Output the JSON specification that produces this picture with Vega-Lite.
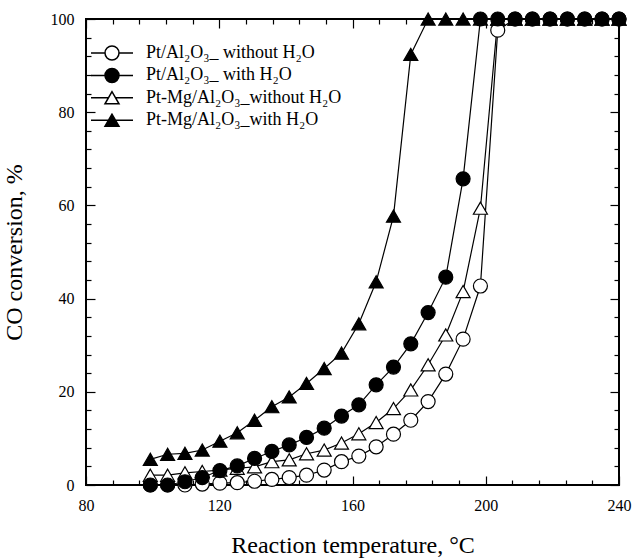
{
  "$schema": "https://vega.github.io/schema/vega-lite/v6.json",
  "width": 533,
  "height": 466,
  "autosize": {"type": "none"},
  "padding": {"left": 86, "top": 19, "right": 16, "bottom": 74},
  "background": "white",
  "config": {
    "view": {"stroke": "black", "strokeWidth": 2},
    "axis": {"domain": false, "grid": false, "labelFlush": false, "tickColor": "black", "tickWidth": 1.2, "labelFont": "Liberation Serif", "labelFontSize": 16, "labelColor": "black", "titleFont": "Liberation Serif", "titleFontSize": 24, "titleFontWeight": "normal", "titleColor": "black"},
    "legend": {"labelFont": "Liberation Serif", "labelFontSize": 18, "labelColor": "black", "labelLimit": 400}
  },
  "data": {"values": [
    {"T": 99.3, "A": 0, "B": 0, "C": 2.1, "D": 5.5},
    {"T": 104.5, "A": 0, "B": 0, "C": 2.1, "D": 6.6},
    {"T": 109.7, "A": 0, "B": 0.7, "C": 2.6, "D": 6.8},
    {"T": 114.9, "A": 0.2, "B": 1.6, "C": 2.9, "D": 7.5},
    {"T": 120.2, "A": 0.4, "B": 3.1, "C": 3.2, "D": 9.4},
    {"T": 125.4, "A": 0.5, "B": 4.1, "C": 3.6, "D": 11.2},
    {"T": 130.6, "A": 0.8, "B": 5.7, "C": 3.9, "D": 13.9},
    {"T": 135.8, "A": 1.2, "B": 7.2, "C": 5.0, "D": 16.8},
    {"T": 141.0, "A": 1.6, "B": 8.6, "C": 5.4, "D": 18.9},
    {"T": 146.2, "A": 2.1, "B": 10.2, "C": 6.7, "D": 21.8},
    {"T": 151.5, "A": 3.2, "B": 12.2, "C": 7.5, "D": 25.0},
    {"T": 156.7, "A": 5.0, "B": 14.8, "C": 9.0, "D": 28.3},
    {"T": 161.9, "A": 6.2, "B": 17.2, "C": 11.0, "D": 34.6},
    {"T": 167.1, "A": 8.2, "B": 21.5, "C": 13.4, "D": 43.6},
    {"T": 172.3, "A": 10.9, "B": 25.3, "C": 16.4, "D": 57.7},
    {"T": 177.5, "A": 13.9, "B": 30.3, "C": 20.4, "D": 92.4},
    {"T": 182.7, "A": 17.9, "B": 37.0, "C": 25.8, "D": 100},
    {"T": 188.0, "A": 23.8, "B": 44.6, "C": 32.2, "D": 100},
    {"T": 193.2, "A": 31.3, "B": 65.7, "C": 41.5, "D": 100},
    {"T": 198.4, "A": 42.7, "B": 100, "C": 59.4, "D": 100},
    {"T": 203.6, "A": 97.6, "B": 100, "C": 100, "D": 100},
    {"T": 208.8, "A": 100, "B": 100, "C": 100, "D": 100},
    {"T": 214.0, "A": 100, "B": 100, "C": 100, "D": 100},
    {"T": 219.3, "A": 100, "B": 100, "C": 100, "D": 100},
    {"T": 224.5, "A": 100, "B": 100, "C": 100, "D": 100},
    {"T": 229.7, "A": 100, "B": 100, "C": 100, "D": 100},
    {"T": 234.9, "A": 100, "B": 100, "C": 100, "D": 100},
    {"T": 240.0, "A": 100, "B": 100, "C": 100, "D": 100}
  ]},
  "transform": [{"fold": ["A", "C", "D", "B"], "as": ["s", "y"]}],
  "layer": [
    {
      "mark": {"type": "line", "color": "black", "strokeWidth": 1.2},
      "encoding": {
        "x": {"field": "T", "type": "quantitative", "scale": {"domain": [80, 240], "nice": false, "zero": false},
              "axis": {"orient": "bottom", "values": [80, 120, 160, 200, 240], "ticks": false, "labelPadding": 12, "title": "Reaction temperature, °C", "titlePadding": 20}},
        "y": {"field": "y", "type": "quantitative", "scale": {"domain": [0, 100], "nice": false},
              "axis": {"orient": "left", "values": [0, 20, 40, 60, 80, 100], "ticks": false, "labelPadding": 12, "title": "CO conversion, %", "titlePadding": 24}},
        "detail": {"field": "s"}
      }
    },
    {
      "mark": {"type": "point", "filled": true, "stroke": "black", "strokeWidth": 1.2, "size": 196, "opacity": 1},
      "encoding": {
        "x": {"field": "T", "type": "quantitative", "scale": {"domain": [80, 240], "nice": false, "zero": false},
              "axis": {"orient": "top", "values": [80, 120, 160, 200, 240], "tickSize": -9, "labels": false, "title": null}},
        "y": {"field": "y", "type": "quantitative", "scale": {"domain": [0, 100], "nice": false},
              "axis": {"orient": "right", "values": [0, 20, 40, 60, 80, 100], "tickSize": -9, "labels": false, "title": null}},
        "shape": {"field": "s", "type": "nominal", "scale": {"domain": ["A", "B", "C", "D"], "range": ["circle", "circle", "triangle-up", "triangle-up"]}, "legend": null},
        "fill": {"field": "s", "type": "nominal", "scale": {"domain": ["A", "B", "C", "D"], "range": ["white", "black", "white", "black"]}, "legend": null}
      }
    },
    {
      "mark": {"type": "point", "opacity": 0},
      "encoding": {
        "x": {"field": "T", "type": "quantitative", "scale": {"domain": [80, 240], "nice": false, "zero": false},
              "axis": {"orient": "bottom", "values": [80, 120, 160, 200, 240], "tickSize": -9, "labels": false, "title": null}},
        "y": {"field": "y", "type": "quantitative", "scale": {"domain": [0, 100], "nice": false},
              "axis": {"orient": "left", "values": [0, 20, 40, 60, 80, 100], "tickSize": -9, "labels": false, "title": null}}
      }
    },
    {
      "mark": {"type": "point", "opacity": 0},
      "encoding": {
        "x": {"field": "T", "type": "quantitative", "scale": {"domain": [80, 240], "nice": false, "zero": false},
              "axis": {"orient": "bottom", "values": [88, 96, 104, 112, 128, 136, 144, 152, 168, 176, 184, 192, 208, 216, 224, 232], "tickSize": -5, "labels": false, "title": null}},
        "y": {"field": "y", "type": "quantitative", "scale": {"domain": [0, 100], "nice": false},
              "axis": {"orient": "left", "values": [4, 8, 12, 16, 24, 28, 32, 36, 44, 48, 52, 56, 64, 68, 72, 76, 84, 88, 92, 96], "tickSize": -5, "labels": false, "title": null}}
      }
    },
    {
      "mark": {"type": "point", "opacity": 0},
      "encoding": {
        "x": {"field": "T", "type": "quantitative", "scale": {"domain": [80, 240], "nice": false, "zero": false},
              "axis": {"orient": "top", "values": [88, 96, 104, 112, 128, 136, 144, 152, 168, 176, 184, 192, 208, 216, 224, 232], "tickSize": -5, "labels": false, "title": null}},
        "y": {"field": "y", "type": "quantitative", "scale": {"domain": [0, 100], "nice": false},
              "axis": {"orient": "right", "values": [4, 8, 12, 16, 24, 28, 32, 36, 44, 48, 52, 56, 64, 68, 72, 76, 84, 88, 92, 96], "tickSize": -5, "labels": false, "title": null}}
      }
    },
    {
      "transform": [{"filter": "false"}],
      "mark": {"type": "point", "filled": true, "stroke": "black", "strokeWidth": 1.2, "size": 196, "opacity": 1},
      "encoding": {
        "x": {"field": "T", "type": "quantitative", "scale": {"domain": [80, 240], "nice": false, "zero": false}, "axis": null},
        "y": {"field": "y", "type": "quantitative", "scale": {"domain": [0, 100], "nice": false}, "axis": null},
        "shape": {"field": "s", "type": "nominal",
                  "scale": {"domain": ["A", "B", "C", "D"], "range": ["M-3,0L-1,0M1,0L3,0M1,0A1,1,0,1,1,-1,0A1,1,0,1,1,1,0Z", "M-3,0L-1,0M1,0L3,0M1,0A1,1,0,1,1,-1,0A1,1,0,1,1,1,0Z", "M-3,0L-0.5,0M0.5,0L3,0M0,-0.866L-1,0.866L1,0.866Z", "M-3,0L-0.5,0M0.5,0L3,0M0,-0.866L-1,0.866L1,0.866Z"]},
                  "legend": {"title": null, "orient": "none", "legendX": 0, "legendY": 25, "padding": 0, "symbolSize": 196, "symbolOffset": 17, "labelOffset": 25, "rowPadding": 2.4,
                             "encode": {"symbols": {"update": {"stroke": {"value": "black"}, "strokeWidth": {"value": 1.2}, "opacity": {"value": 1}}}},
                             "labelExpr": "{'A': 'Pt/Al₂O₃_ without H₂O', 'B': 'Pt/Al₂O₃_ with H₂O', 'C': 'Pt-Mg/Al₂O₃_without H₂O', 'D': 'Pt-Mg/Al₂O₃_with H₂O'}[datum.label]"}},
        "fill": {"field": "s", "type": "nominal", "scale": {"domain": ["A", "B", "C", "D"], "range": ["white", "black", "white", "black"]},
                 "legend": {"title": null, "orient": "none", "legendX": 0, "legendY": 25, "padding": 0, "symbolSize": 196, "symbolOffset": 17, "labelOffset": 25, "rowPadding": 2.4,
                            "encode": {"symbols": {"update": {"stroke": {"value": "black"}, "strokeWidth": {"value": 1.2}, "opacity": {"value": 1}}}},
                            "labelExpr": "{'A': 'Pt/Al₂O₃_ without H₂O', 'B': 'Pt/Al₂O₃_ with H₂O', 'C': 'Pt-Mg/Al₂O₃_without H₂O', 'D': 'Pt-Mg/Al₂O₃_with H₂O'}[datum.label]"}}
      }
    }
  ],
  "resolve": {
    "axis": {"x": "independent", "y": "independent"},
    "scale": {"shape": "independent", "fill": "independent"},
    "legend": {"shape": "independent", "fill": "independent"}
  }
}
